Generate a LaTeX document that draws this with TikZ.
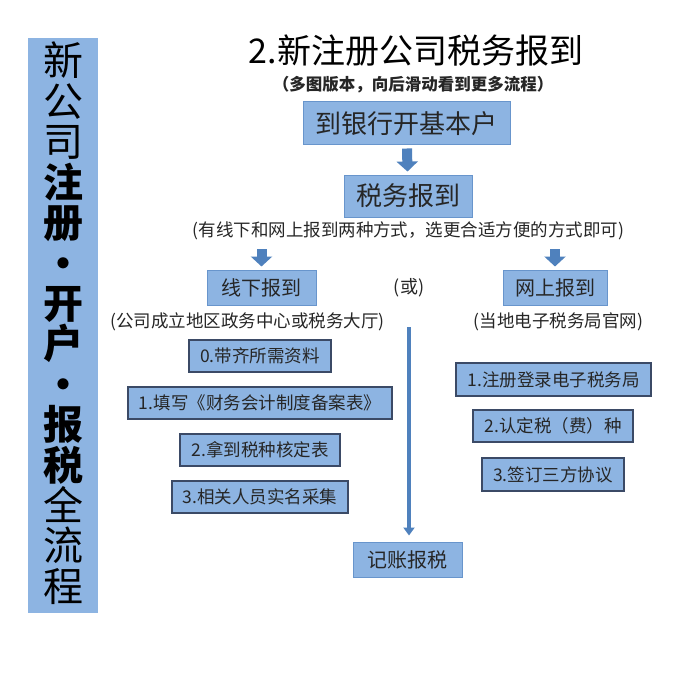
\documentclass[tikz,border=0pt]{standalone}
\usepackage{fontspec}
\setmainfont{Noto Sans CJK SC}
\usepackage{xcolor}
\usetikzlibrary{arrows.meta, positioning, calc}
\definecolor{boxblue}{HTML}{8DB4E2}
\definecolor{boxline}{HTML}{3B4A66}
\definecolor{arrowblue}{HTML}{4F81BD}

\begin{document}
\begin{tikzpicture}[x=1pt, y=-1pt,
  sidechar/.style={inner sep=0pt, text height=30pt, text depth=4pt, font=\fontsize{40}{40}\selectfont, text=black},
  bigbox/.style={draw=arrowblue!60!boxblue, line width=1pt, fill=boxblue, inner sep=0pt, font=\fontsize{26}{30}\selectfont, text=black!85},
  midbox/.style={draw=arrowblue!60!boxblue, line width=1pt, fill=boxblue, inner sep=0pt, minimum height=35pt, font=\fontsize{20}{24}\selectfont, text=black!85},
  stepbox/.style={draw=boxline, line width=1.2pt, fill=boxblue, inner sep=0pt, minimum height=32pt, font=\fontsize{17.5}{20}\selectfont, text=black!85},
  note/.style={inner sep=0pt, font=\fontsize{17.5}{20}\selectfont, text=black!85},
  fat/.style={arrowblue, line width=10pt, -{Triangle[width=21pt,length=10pt]}, shorten <=3pt, shorten >=3pt},
  thin/.style={arrowblue, line width=4pt, -{Triangle[width=11pt,length=8pt]}, shorten >=6pt},
]
\useasboundingbox (0,0) rectangle (681,677);
\fill[white] (0,0) rectangle (681,677);

% Side bar
\fill[boxblue] (28,38) rectangle (98,613);
\foreach \c [count=\i] in {新,公,司,\bfseries 注,\bfseries 册,\bfseries ·,\bfseries 开,\bfseries 户,\bfseries ·,\bfseries 报,\bfseries 税,全,流,程} {
    \node[sidechar] (c\i) at (63, {63+40.4*(\i-1)}) {\c};
}

% Title
\node[inner sep=0pt, font=\fontsize{34}{38}\selectfont] (title) at (416,51) {2.新注册公司税务报到};
\node[inner sep=0pt, font=\bfseries\fontsize{16.5}{18}\selectfont, text=black!85] (sub) at (413,85) {（多图版本，向后滑动看到更多流程）};

% Bank and tax office
\node[bigbox, minimum width=207pt, minimum height=43pt] (bank) at (406.5,123.5) {到银行开基本户};
\node[bigbox, minimum width=128pt, minimum height=42pt] (tax) at (408,196) {税务报到};
\draw[fat] (bank) -- (tax);
\node[note] (ways) at (408.5,231) {(有线下和网上报到两种方式，选更合适方便的方式即可)};

% Two ways
\node[midbox, minimum width=109pt] (offline) at (261.5,287.5) {线下报到};
\node[midbox, minimum width=104pt] (online) at (555,287.5) {网上报到};
\node[note, font=\fontsize{18}{20}\selectfont] (or) at (409,288) {(或)};
\draw[fat] (ways.south -| offline) ++(0,6) coordinate (offtop) -- (offline);
\draw[fat] (ways.south -| online) ++(0,6) coordinate (ontop) -- (online);
\node[note] (offnote) at (247.5,322) {(公司成立地区政务中心或税务大厅)};
\node[note] (onnote) at (558.5,322) {(当地电子税务局官网)};

% Offline steps
\node[stepbox, minimum width=142pt] (off0) at (260,356) {0.带齐所需资料};
\node[stepbox, minimum width=264pt] (off1) at (260,403) {1.填写《财务会计制度备案表》};
\node[stepbox, minimum width=160pt] (off2) at (260,450) {2.拿到税种核定表};
\node[stepbox, minimum width=176pt] (off3) at (260,497) {3.相关人员实名采集};

% Online steps
\node[stepbox, minimum width=195pt, minimum height=33pt] (on1) at (553.5,379.5) {1.注册登录电子税务局};
\node[stepbox, minimum width=160pt] (on2) at (553,426) {2.认定税（费）种};
\node[stepbox, minimum width=142pt, minimum height=33pt] (on3) at (553,474.5) {3.签订三方协议};

% Bookkeeping
\node[midbox, minimum width=109pt] (books) at (407.5,559.5) {记账报税};
\coordinate (down) at (409,327);
\draw[thin] (down) -- (down |- books.north);
\end{tikzpicture}
\end{document}
